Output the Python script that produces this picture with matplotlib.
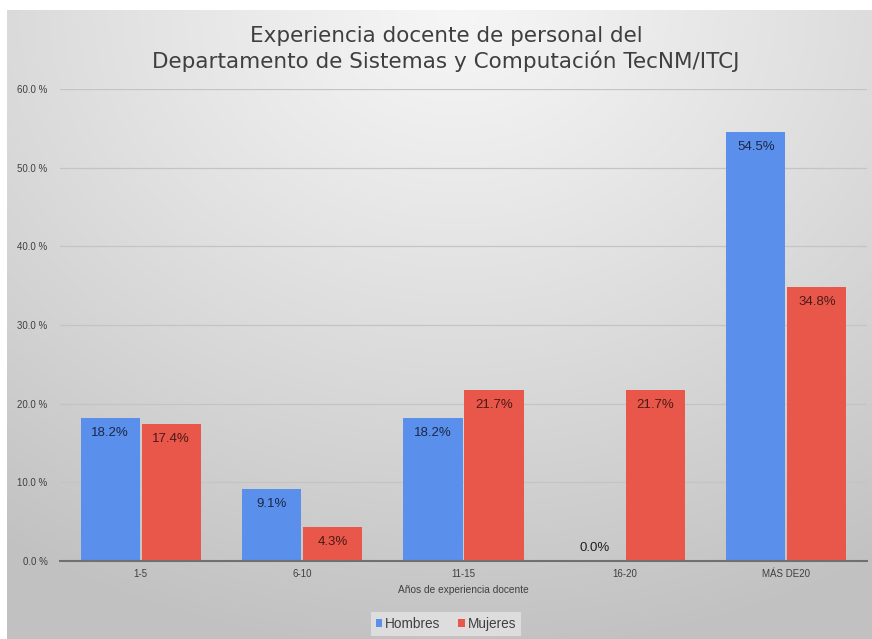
import numpy as np
import matplotlib
matplotlib.use("Agg")
import matplotlib.pyplot as plt
from matplotlib.ticker import FuncFormatter

categories = ["1-5", "6-10", "11-15", "16-20", "MÁS DE20"]
hombres = [18.2, 9.1, 18.2, 0.0, 54.5]
mujeres = [17.4, 4.3, 21.7, 21.7, 34.8]
series_names = ["Hombres", "Mujeres"]
title = "Experiencia docente de personal del\nDepartamento de Sistemas y Computación TecNM/ITCJ"
xlabel = "Años de experiencia docente"

plt.rcParams['font.family'] = ['Liberation Sans', 'DejaVu Sans']

W, H = 872, 639
fig = plt.figure(figsize=(W / 100, H / 100), dpi=100)
fig.patch.set_facecolor("white")

# background gradient panel
bg = fig.add_axes([7 / W, 0, 1 - 7 / W, 1 - 10 / H])
bg.set_axis_off()
ny, nx = 300, 400
yy, xx = np.mgrid[0:1:ny * 1j, 0:1:nx * 1j]
r = np.sqrt(((xx - 0.52) / 0.9) ** 2 + ((yy - 0.0) / 1.0) ** 2)
vals = 0.965 - 0.2 * np.clip(r, 0, 1.2) ** 1.1
vals = np.clip(vals, 0.76, 0.97)
img = np.dstack([vals, vals, vals])
bg.imshow(img, aspect="auto", extent=[0, 1, 0, 1], origin="upper")
bg.set_xlim(0, 1)
bg.set_ylim(0, 1)

ax = fig.add_axes([60 / W, 1 - 561 / H, (867 - 60) / W, (561 - 89) / H])
ax.patch.set_alpha(0)

x = np.arange(len(categories))
bw = 0.366
gap = 0.006
blue = "#5a8fec"
red = "#e8574a"
b1 = ax.bar(x - bw / 2 - gap, hombres, bw, color=blue, zorder=3)
b2 = ax.bar(x + bw / 2 + gap, mujeres, bw, color=red, zorder=3)

for bars, vals_, col in ((b1, hombres, "#1c2846"), (b2, mujeres, "#4a1a16")):
    for rect, v in zip(bars, vals_):
        cx = rect.get_x() + rect.get_width() / 2
        if v > 3:
            ax.annotate(f"{v:.1f}%", (cx, v), xytext=(0, -15), textcoords="offset pixels",
                        ha="center", va="center", fontsize=9.5, color=col, zorder=4)
        else:
            ax.annotate(f"{v:.1f}%", (cx, v), xytext=(0, 13), textcoords="offset pixels",
                        ha="center", va="center", fontsize=9.5, color="#202020", zorder=4)

ax.set_ylim(0, 60)
ax.set_xlim(-0.5, len(categories) - 0.5)
ax.set_yticks(np.arange(0, 61, 10))
ax.yaxis.set_major_formatter(FuncFormatter(lambda v, p: f"{v:.1f} %"))
ax.set_xticks(x)
ax.set_xticklabels(categories)
ax.tick_params(axis="both", length=0, labelsize=7, colors="#404040")
ax.tick_params(axis="y", pad=9)
ax.tick_params(axis="x", pad=6)
ax.grid(axis="y", color="#c4c4c4", linewidth=0.9, zorder=0)
for s in ("top", "right", "left"):
    ax.spines[s].set_visible(False)
ax.spines["bottom"].set_color("#707070")
ax.spines["bottom"].set_linewidth(1.5)
ax.spines["bottom"].set_zorder(5)
ax.set_xlabel(xlabel, fontsize=7.3, color="#404040", labelpad=4)

fig.text(446 / W, 1 - 49 / H, title, ha="center", va="center", fontsize=15.5,
         color="#3f3f3f", linespacing=1.2, family=["DejaVu Sans"])

leg = ax.legend(series_names, loc="center", bbox_to_anchor=(446 / W, 1 - 624 / H),
                bbox_transform=fig.transFigure, ncol=2, frameon=True, fontsize=9.8,
                handlelength=0.5, handleheight=0.5, handletextpad=0.2, columnspacing=1.3,
                borderpad=0.35, fancybox=False)
leg.get_frame().set_facecolor("#e4e4e4")
leg.get_frame().set_edgecolor("none")
leg.get_frame().set_alpha(0.8)
for t in leg.get_texts():
    t.set_color("#404040")

fig.savefig("out.png", dpi=100)
